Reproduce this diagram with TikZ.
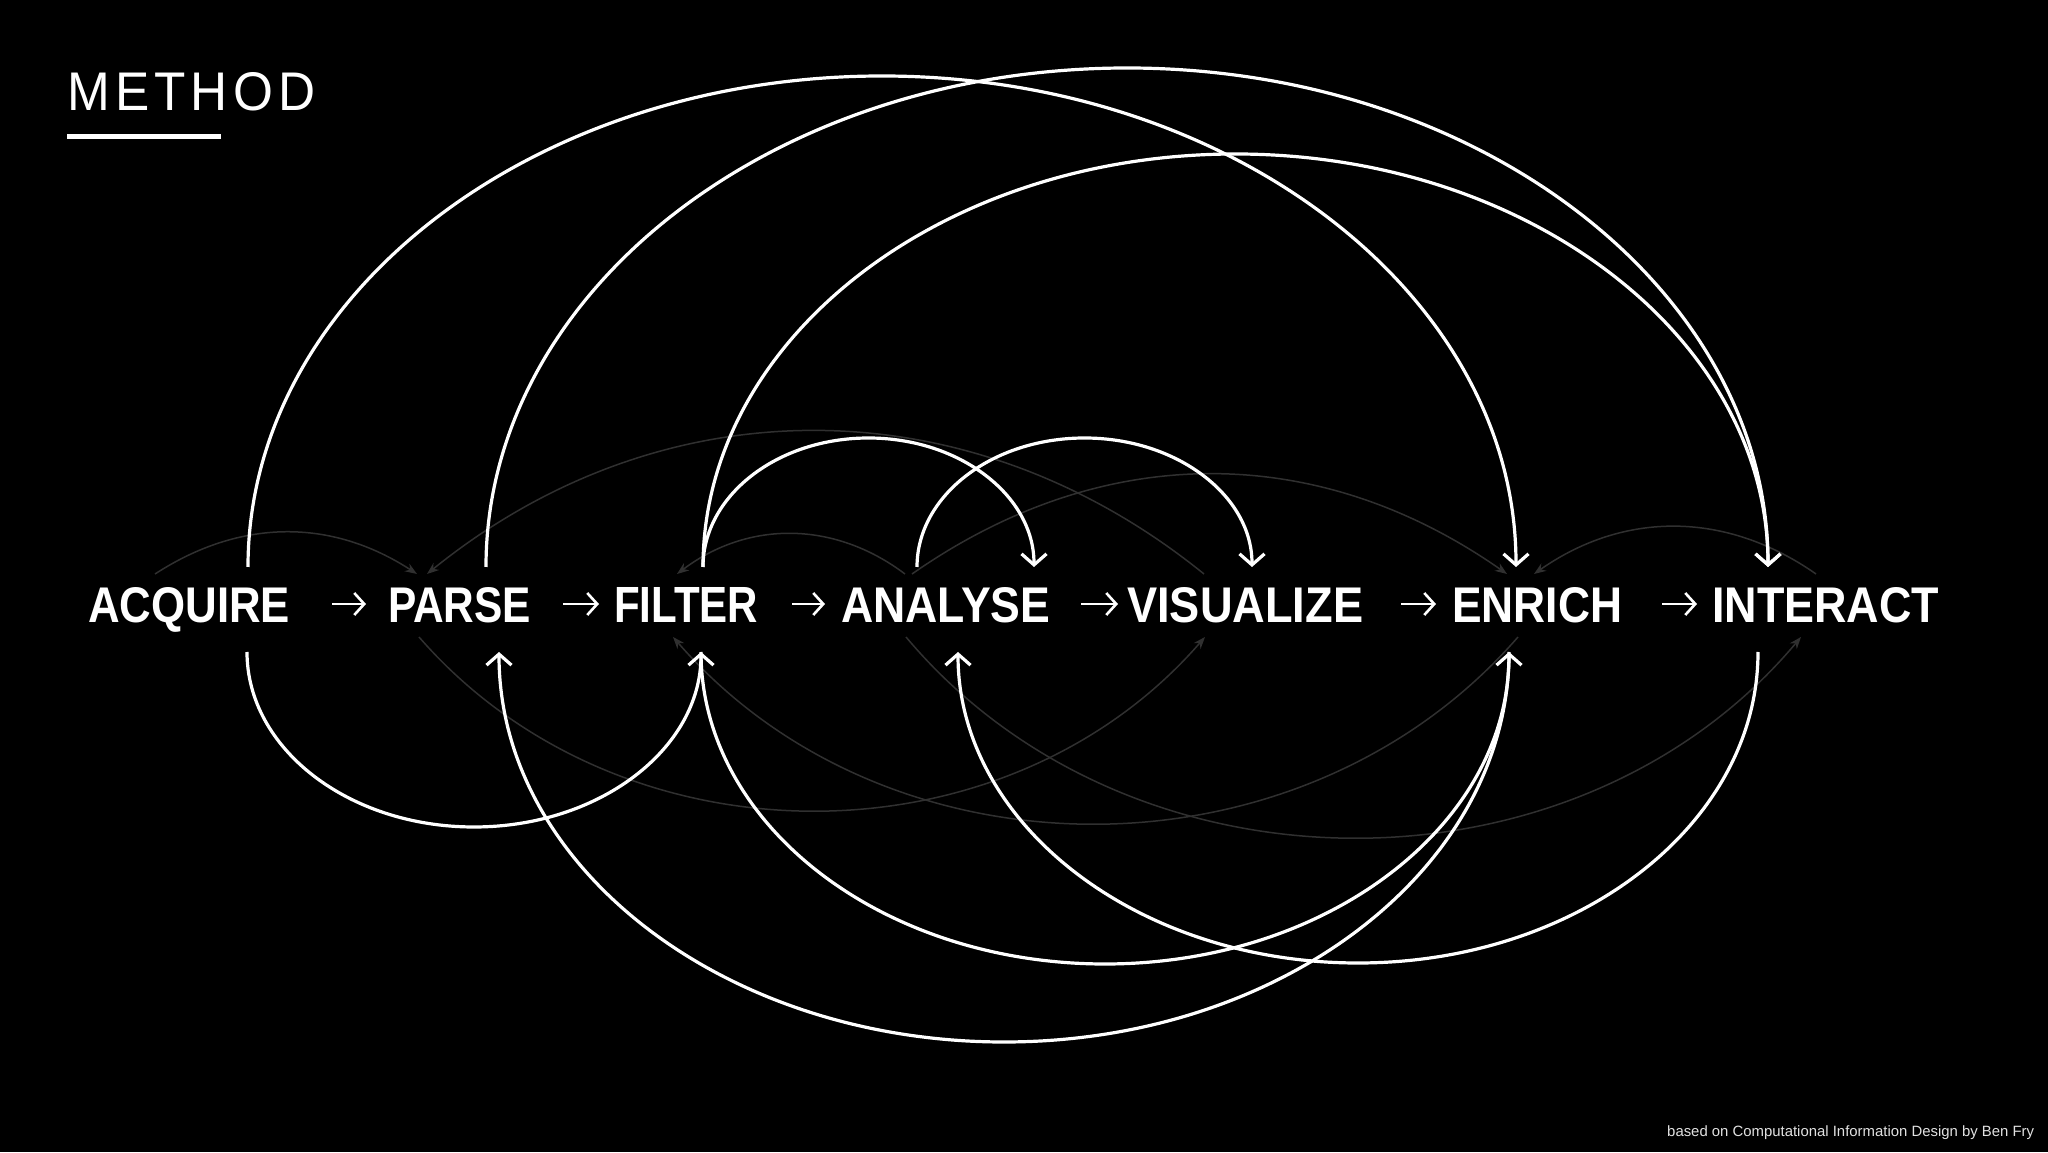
\documentclass[tikz,border=0pt]{standalone}
\usepackage{fontspec}
\setmainfont{Liberation Sans}
\newfontfamily\methodfont[LetterSpace=10]{Liberation Sans}
\usetikzlibrary{arrows.meta,calc}
\definecolor{arcgray}{RGB}{48,48,48}
\definecolor{footgray}{RGB}{225,225,225}
\tikzset{
  warc/.style={draw=white, line width=3.2pt},
  garc/.style={draw=arcgray, line width=1.5pt},
  wto/.style={-{Straight Barb[length=11pt,width=25pt]}},
  wfrom/.style={{Straight Barb[length=11pt,width=25pt]}-},
  gto/.style={-{Stealth[length=12pt,width=9pt]}},
  stepar/.style={draw=white, line width=2.6pt, -{Straight Barb[length=10pt,width=22pt]}},
  lbl/.style={anchor=base west, inner sep=0pt, text=white, font=\bfseries},
  archup/.style={to path={let \p1=(\tikztostart),\p2=(\tikztotarget),\n1={(\x2-\x1)/2} in arc[start angle=180,end angle=0,x radius=\n1,y radius=#1 pt]}},
  archdown/.style={to path={let \p1=(\tikztostart),\p2=(\tikztotarget),\n1={(\x2-\x1)/2} in arc[start angle=180,end angle=360,x radius=\n1,y radius=#1 pt]}},
}
\begin{document}
\begin{tikzpicture}[x=1pt,y=1pt]
\fill[black] (0,0) rectangle (2048,1152);
\useasboundingbox (0,0) rectangle (2048,1152);

% title
\node[anchor=base west, inner sep=0pt, text=white] (title) at (67,1041) {\resizebox{248pt}{38pt}{\methodfont METHOD}};
\node[fill=white, inner sep=0pt, minimum width=154pt, minimum height=5pt, anchor=north west] (uline) at (67,1018) {};

% white arc endpoints
\coordinate (acqT) at (248,585);
\coordinate (parT) at (486,585);
\coordinate (filT) at (703,585);
\coordinate (anaTin) at (1034,585);
\coordinate (anaT) at (917,585);
\coordinate (visT) at (1252,585);
\coordinate (enrT) at (1516,585);
\coordinate (intT) at (1768,585);
\coordinate (acqB) at (247,500);
\coordinate (parB) at (499,500);
\coordinate (filB) at (701,500);
\coordinate (anaB) at (958,500);
\coordinate (enrB) at (1509,500);
\coordinate (intB) at (1758,500);

% gray arc endpoints
\coordinate (gAcqT) at (155,578);
\coordinate (gParTa) at (417,578);
\coordinate (gVisT) at (1204,578);
\coordinate (gParTb) at (427,578);
\coordinate (gAnaTa) at (905,578);
\coordinate (gFilT) at (677,578);
\coordinate (gAnaTb) at (912,578);
\coordinate (gEnrTa) at (1507,578);
\coordinate (gIntT) at (1816,578);
\coordinate (gEnrTb) at (1534,578);
\coordinate (gParB) at (419,515);
\coordinate (gVisB) at (1205,515);
\coordinate (gEnrB) at (1518,515);
\coordinate (gFilB) at (673,515);
\coordinate (gAnaB) at (906,515);
\coordinate (gIntB) at (1801,515);

% gray arcs
\draw[garc,gto] (gAcqT) to[bend left=33] (gParTa);
\draw[garc,gto] (gVisT) to[bend right=39] (gParTb);
\draw[garc,gto] (gAnaTa) to[bend right=37] (gFilT);
\draw[garc,gto] (gAnaTb) to[bend left=35] (gEnrTa);
\draw[garc,gto] (gIntT) to[bend right=35] (gEnrTb);
\draw[garc,gto] (gParB) to[bend right=49] (gVisB);
\draw[garc,gto] (gEnrB) to[bend left=49] (gFilB);
\draw[garc,gto] (gAnaB) to[bend right=50] (gIntB);

% white arcs
\draw[warc,wto] (acqT) to[archup=491] (enrT);
\draw[warc,wto] (parT) to[archup=499] (intT);
\draw[warc,wto] (filT) to[archup=413] (intT);
\draw[warc,wto] (filT) to[archup=129] (anaTin);
\draw[warc,wto] (anaT) to[archup=129] (visT);
\draw[warc,wto] (acqB) to[archdown=175] (filB);
\draw[warc,wfrom] (parB) to[archdown=390] (enrB);
\draw[warc,wto] (filB) to[archdown=312] (enrB);
\draw[warc,wfrom] (anaB) to[archdown=311] (intB);

% labels
\node[lbl] (acq) at (88,529) {\resizebox{202pt}{35pt}{ACQUIRE}};
\node[lbl] (par) at (388,529) {\resizebox{143pt}{35pt}{PARSE}};
\node[lbl] (fil) at (614,529) {\resizebox{144pt}{35pt}{FILTER}};
\node[lbl] (ana) at (841,529) {\resizebox{209pt}{35pt}{ANALYSE}};
\node[lbl] (vis) at (1127,529) {\resizebox{236pt}{35pt}{VISUALIZE}};
\node[lbl] (enr) at (1452,529) {\resizebox{170pt}{35pt}{ENRICH}};
\node[lbl] (int) at (1712,529) {\resizebox{227pt}{35pt}{INTERACT}};

% step arrows
\coordinate (s1a) at (332,548); \coordinate (s1b) at (366,548);
\coordinate (s2a) at (563,548); \coordinate (s2b) at (599,548);
\coordinate (s3a) at (792,548); \coordinate (s3b) at (825,548);
\coordinate (s4a) at (1081,548); \coordinate (s4b) at (1118,548);
\coordinate (s5a) at (1401,548); \coordinate (s5b) at (1436,548);
\coordinate (s6a) at (1662,548); \coordinate (s6b) at (1697,548);
\draw[stepar] (s1a) -- (s1b);
\draw[stepar] (s2a) -- (s2b);
\draw[stepar] (s3a) -- (s3b);
\draw[stepar] (s4a) -- (s4b);
\draw[stepar] (s5a) -- (s5b);
\draw[stepar] (s6a) -- (s6b);

% footer
\node[anchor=base west, inner sep=0pt, text=footgray, font=\fontsize{14.9}{16}\selectfont] (foot) at (1667,16) {based on Computational Information Design by Ben Fry};
\end{tikzpicture}
\end{document}
